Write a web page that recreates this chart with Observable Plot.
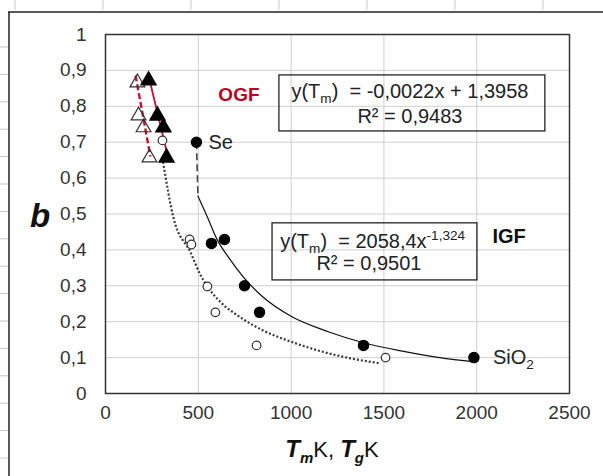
<!DOCTYPE html>
<html><head><meta charset="utf-8">
<script src="https://cdn.jsdelivr.net/npm/d3@7"></script>
<script src="https://cdn.jsdelivr.net/npm/@observablehq/plot@0.6"></script>
<style>
body{margin:0;background:#fff;}
svg{font-family:"Liberation Sans",Arial,sans-serif;}
</style>
</head><body><div id="chart"></div>
<script>
// ---- tick values ----
const xTicks = [0, 500, 1000, 1500, 2000, 2500];
const yTicks = [0, 0.1, 0.2, 0.3, 0.4, 0.5, 0.6, 0.7, 0.8, 0.9, 1];

// ---- IGF: melting temperature Tm (filled circles) ----
const igfTm  = [490, 571, 641, 749, 830, 1390, 1985];
const igfTmB = [0.70, 0.418, 0.429, 0.30, 0.226, 0.134, 0.10];
// ---- IGF: glass transition Tg (open circles) ----
const igfTg  = [307, 453, 463, 549, 592, 814, 1509];
const igfTgB = [0.705, 0.429, 0.415, 0.298, 0.226, 0.134, 0.10];

// ---- OGF: Tm (filled triangles) and Tg (open triangles) ----
const ogfTm  = [232, 280, 312, 329];
const ogfTmB = [0.872, 0.774, 0.741, 0.657];
const ogfTg  = [172, 178, 205, 237];
const ogfTgB = [0.866, 0.774, 0.741, 0.657];

// ---- trend lines ----
const fitTmX = [498, 550, 600, 662, 750, 850, 1000, 1200, 1400, 1600, 1800, 1990];
const fitTmY = [0.55, 0.49, 0.43, 0.38, 0.32, 0.268, 0.215, 0.172, 0.14, 0.118, 0.10, 0.088];
const fitTgX = [310, 366, 458, 512, 549, 619, 727, 851, 1012, 1158, 1319, 1481];
const fitTgY = [0.645, 0.49, 0.393, 0.33, 0.298, 0.255, 0.212, 0.175, 0.142, 0.118, 0.098, 0.084];
const seLinkX = [490, 498];
const seLinkY = [0.70, 0.55];
const ogfTmFitX = [232, 334];
const ogfTmFitY = [0.885, 0.665];
const ogfTgFitX = [162, 242];
const ogfTgFitY = [0.886, 0.66];

const pts = (xs, ys) => xs.map((x, i) => ({x, y: ys[i]}));

const fmt = d => (d === 0 || d === 1) ? String(d) : d.toFixed(1).replace(".", ",");

const chart = Plot.plot({
  width: 603, height: 476,
  marginLeft: 105, marginRight: 34, marginTop: 34, marginBottom: 83,
  style: {fontFamily: "Liberation Sans, Arial, sans-serif", fontSize: "19px", background: "white"},
  x: {domain: [0, 2500], label: null},
  y: {domain: [0, 1], label: null},
  marks: [
    Plot.gridX(xTicks, {stroke: "#cfcfcf", strokeOpacity: 1}),
    Plot.gridY(yTicks, {stroke: "#cfcfcf", strokeOpacity: 1}),
    Plot.axisX(xTicks, {tickSize: 0, tickPadding: 12, tickFormat: d => String(d), fill: "#333", fontSize: 19, label: null}),
    Plot.axisY(yTicks, {tickSize: 0, tickPadding: 19, tickFormat: fmt, fill: "#333", fontSize: 19, label: null}),
    // equation boxes
    Plot.rect([{x1: 937, x2: 2370, y1: 0.730, y2: 0.886}], {x1: "x1", x2: "x2", y1: "y1", y2: "y2", fill: "none", stroke: "#222", strokeWidth: 1.3}),
    Plot.rect([{x1: 900, x2: 2004, y1: 0.315, y2: 0.474}], {x1: "x1", x2: "x2", y1: "y1", y2: "y2", fill: "none", stroke: "#222", strokeWidth: 1.3}),
    // trend lines
    Plot.line(pts(fitTgX, fitTgY), {x: "x", y: "y", curve: "monotone-x", stroke: "#3a3a3a", strokeWidth: 2.2, strokeDasharray: "2,2", strokeLinecap: "butt"}),
    Plot.line(pts(fitTmX, fitTmY), {x: "x", y: "y", curve: "monotone-x", stroke: "#111", strokeWidth: 1.2}),
    Plot.line(pts(seLinkX, seLinkY), {x: "x", y: "y", stroke: "#444", strokeWidth: 1.6, strokeDasharray: "7,4", strokeLinecap: "butt"}),
    Plot.line(pts(ogfTgFitX, ogfTgFitY), {x: "x", y: "y", stroke: "#c8102e", strokeWidth: 2.4, strokeDasharray: "6,3", strokeLinecap: "butt"}),
    Plot.line(pts(ogfTmFitX, ogfTmFitY), {x: "x", y: "y", stroke: "#c8102e", strokeWidth: 1.8}),
    // points
    Plot.dot(pts(igfTg, igfTgB), {x: "x", y: "y", r: 4.3, fill: "white", stroke: "#333", strokeWidth: 1.2}),
    Plot.dot(pts(igfTm, igfTmB), {x: "x", y: "y", r: 5, fill: "black", stroke: "black"}),
    Plot.dot(pts(ogfTg, ogfTgB), {x: "x", y: "y", symbol: "triangle", r: 5.5, fill: "none", stroke: "#333", strokeWidth: 1.2}),
    Plot.dot(pts(ogfTm, ogfTmB), {x: "x", y: "y", symbol: "triangle", r: 5.5, fill: "black", stroke: "black"}),
    // simple labels
    Plot.text(["Se"], {x: 555, y: 0.70, text: d => d, textAnchor: "start", fontSize: 20, fill: "#222"}),
    Plot.text(["OGF"], {x: 719, y: 0.816, text: d => d, fontSize: 19, fontWeight: "bold", fill: "#c00020", lineAnchor: "bottom"}),
    Plot.text(["IGF"], {x: 2085, y: 0.418, text: d => d, textAnchor: "start", fontSize: 20, fontWeight: "bold", fill: "#111", lineAnchor: "bottom"}),
    Plot.frame({stroke: "#333", strokeWidth: 1.5})
  ]
});

const sx = chart.scale("x"), sy = chart.scale("y");
const svg = d3.select(chart);
const g = svg.append("g").attr("fill", "#222").style("white-space", "pre");

function rich(x, y, anchor, size, parts, px) {
  const t = g.append("text")
    .attr("x", px ? x : sx.apply(x))
    .attr("y", px ? y : sy.apply(y))
    .attr("text-anchor", anchor)
    .attr("font-size", size);
  let shift = 0;
  for (const p of parts) {
    const s = t.append("tspan").text(p.t);
    const target = p.sub ? size * 0.25 : p.sup ? -size * 0.4 : 0;
    if (target !== shift) { s.attr("dy", target - shift); shift = target; }
    if (p.sub || p.sup) s.attr("font-size", size * 0.68);
    if (p.w) s.attr("font-weight", p.w);
    if (p.i) s.attr("font-style", "italic");
    if (p.fs) s.attr("font-size", p.fs);
  }
  return t;
}

// equation box 1
rich(1643, 0.822, "middle", 20, [{t: "y(T"}, {t: "m", sub: true}, {t: ")  = -0,0022x + 1,3958"}]);
rich(1643, 0.752, "middle", 20, [{t: "R² = 0,9483"}]);
// equation box 2
rich(1442, 0.404, "middle", 20, [{t: "y(T"}, {t: "m", sub: true}, {t: ")  = 2058,4x"}, {t: "-1,324", sup: true}]);
rich(1422, 0.343, "middle", 20, [{t: "R² = 0,9501"}]);
// SiO2 label
rich(2090, 0.10, "start", 20, [{t: "SiO"}, {t: "2", sub: true}]).attr("dy", "0.35em");

// axis titles (pixel positions)
rich(40, 227, "middle", 33, [{t: "b", w: "bold", i: true}], true).attr("fill", "#111");
rich(332, 457, "middle", 22, [
  {t: "T", w: "bold", i: true, fs: 24}, {t: "m", sub: true, w: "bold", i: true},
  {t: "K, "}, {t: "T", w: "bold", i: true, fs: 24}, {t: "g", sub: true, w: "bold", i: true}, {t: "K"}
], true).attr("fill", "#111");

// spreadsheet-like outer border and faint cell marks
const deco = svg.append("g").attr("stroke", "#c8c8c8").attr("stroke-width", 1);
d3.range(7).forEach(i => {
  const x = 15 + i * 88;
  deco.append("line").attr("x1", x).attr("x2", x).attr("y1", 0).attr("y2", 10);
});
d3.range(16).forEach(i => {
  const y = 47 + i * 27.4;
  deco.append("line").attr("x1", 0).attr("x2", 8).attr("y1", y).attr("y2", y);
});
svg.append("line").attr("x1", 8).attr("x2", 603).attr("y1", 12).attr("y2", 12).attr("stroke", "#222").attr("stroke-width", 1.5);
svg.append("line").attr("x1", 9).attr("x2", 9).attr("y1", 12).attr("y2", 476).attr("stroke", "#222").attr("stroke-width", 1.5);

document.getElementById("chart").appendChild(chart);
</script>
</body></html>
